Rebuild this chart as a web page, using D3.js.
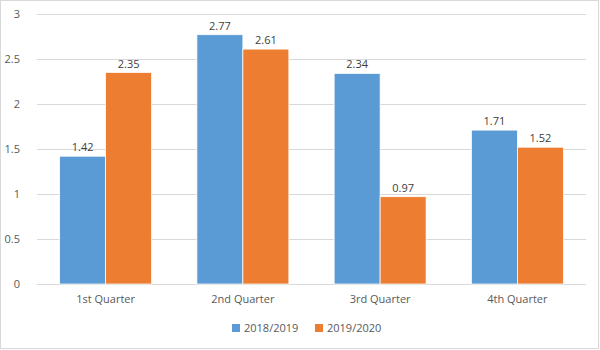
<!DOCTYPE html>
<html><head><meta charset="utf-8">
<script src="https://cdn.jsdelivr.net/npm/d3@7"></script>
<style>body{margin:0;background:#fff}svg{display:block}text{font-family:"Open Sans","Liberation Sans",sans-serif;fill:#595959}</style>
</head><body><svg id="c" width="600" height="350"></svg>
<script>
const categories = ["1st Quarter","2nd Quarter","3rd Quarter","4th Quarter"];
const seriesNames = ["2018/2019","2019/2020"];
const values2018 = [1.42,2.77,2.34,1.71];
const values2019 = [2.35,2.61,0.97,1.52];
const yTicks = [0,0.5,1,1.5,2,2.5,3];
const colors = ["#5B9BD5","#ED7D31"];

(function(){
const svg = d3.select("#c");
svg.append("rect").attr("x",0.5).attr("y",0.5).attr("width",598).attr("height",348)
  .attr("fill","#fff").attr("stroke","#d9d9d9");

const pLeft=37,pRight=586,pTop=14,pBottom=284;
const x0=d3.scaleBand().domain(categories).range([pLeft,pRight]).padding(0);
const y=d3.scaleLinear().domain([0,3]).range([pBottom,pTop]);
const bw=x0.bandwidth()*0.335;

const yAxis=d3.axisLeft(y).tickValues(yTicks).tickSize(0).tickPadding(0).tickFormat(d=>String(d));
const gy=svg.append("g").attr("transform",`translate(${pLeft-17},0)`).call(yAxis);
gy.select(".domain").remove();
gy.selectAll("text").attr("text-anchor","end").style("font-size","11px").attr("dy","0.32em");

svg.append("g").selectAll("line").data(yTicks).join("line")
  .attr("x1",pLeft).attr("x2",pRight).attr("y1",d=>Math.round(y(d))+0.5).attr("y2",d=>Math.round(y(d))+0.5)
  .attr("stroke","#d9d9d9").attr("stroke-width",1);

const data=categories.map((c,i)=>({c,v:[values2018[i],values2019[i]]}));
const g=svg.append("g");
data.forEach(d=>{
  const cx=x0(d.c)+x0.bandwidth()/2;
  d.v.forEach((v,j)=>{
    const xs=cx+(j-1)*bw;
    g.append("rect").attr("x",xs).attr("y",y(v)).attr("width",bw).attr("height",y(0)-y(v))
      .attr("fill",colors[j]).attr("stroke","#fff").attr("stroke-width",0.75);
    g.append("text").attr("x",xs+bw/2).attr("y",y(v)-5).attr("text-anchor","middle")
      .style("font-size","11px").style("fill","#404040").text(v.toFixed(2));
  });
});

const xAxis=d3.axisBottom(x0).tickSize(0).tickPadding(0);
const gx=svg.append("g").attr("transform",`translate(0,${pBottom+15})`).call(xAxis);
gx.select(".domain").remove();
gx.selectAll("text").style("font-size","11px").attr("dy","0.32em");

const leg=svg.append("g");
const legX=[232,315];
seriesNames.forEach((s,i)=>{
  leg.append("rect").attr("x",legX[i]).attr("y",324).attr("width",8).attr("height",8).attr("fill",colors[i]);
  leg.append("text").attr("x",legX[i]+12).attr("y",328).attr("dy","0.35em").style("font-size","11px").text(s);
});
})();
</script></body></html>
